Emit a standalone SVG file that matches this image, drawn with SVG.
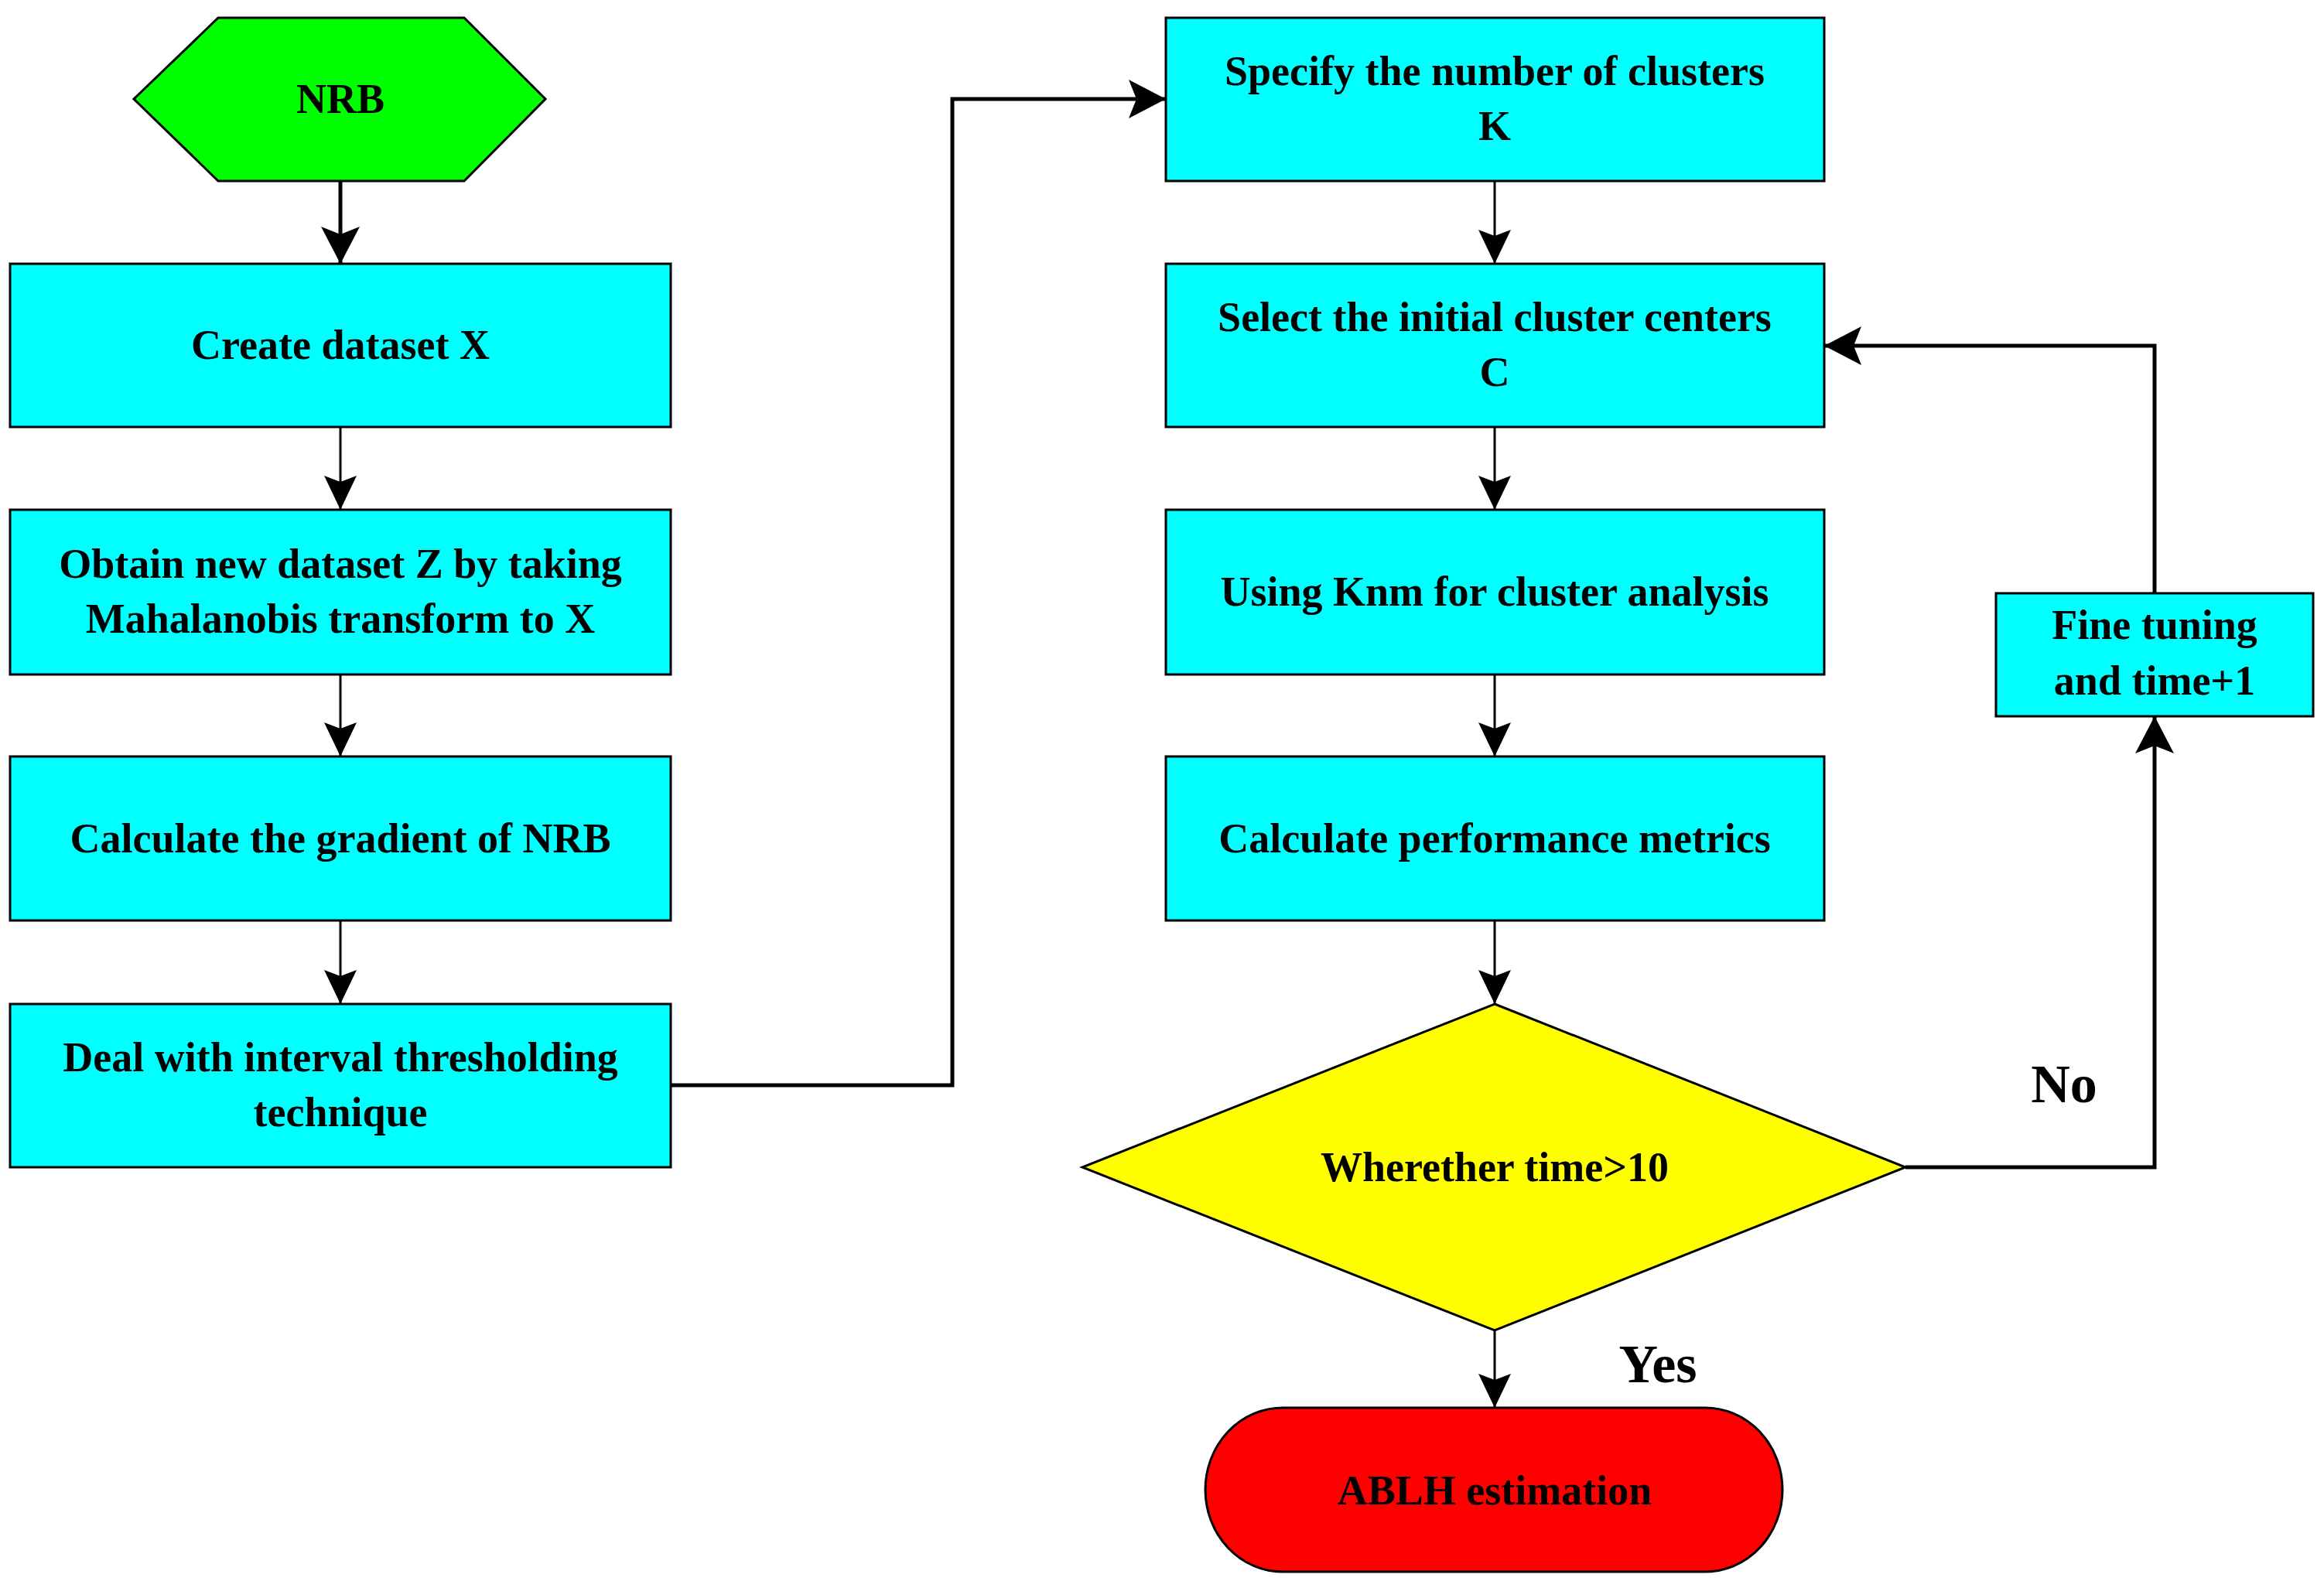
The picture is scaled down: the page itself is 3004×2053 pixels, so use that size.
<svg xmlns="http://www.w3.org/2000/svg" width="3004" height="2053" viewBox="0 0 3004 2053">
<style>
.box{fill:#00ffff;stroke:#000;stroke-width:3}
.t{font-family:"Liberation Serif",serif;font-weight:bold;font-size:54px;text-anchor:middle;fill:#000}
.lbl{font-family:"Liberation Serif",serif;font-weight:bold;font-size:70px;text-anchor:middle;fill:#000}
.c{fill:none;stroke:#000;stroke-width:3}
.ck{fill:none;stroke:#000;stroke-width:5}
</style>
<defs>
<marker id="a" markerUnits="userSpaceOnUse" markerWidth="50" markerHeight="50" refX="44" refY="21" orient="auto">
<path d="M0,0 L44,21 L0,42 L8,21 Z" fill="#000"/>
</marker>
<marker id="ak" markerUnits="userSpaceOnUse" markerWidth="56" markerHeight="56" refX="48" refY="25" orient="auto">
<path d="M0,0 L48,25 L0,50 L10,25 Z" fill="#000"/>
</marker>
</defs>
<g id="nrb"><polygon points="282,23 600,23 705,128 600,234 282,234 173,128" fill="#00ff00" stroke="#000" stroke-width="3"/><text class="t" x="440" y="146">NRB</text></g>
<g id="create"><rect class="box" x="13" y="341" width="854" height="211"/><text class="t" x="440" y="464">Create dataset X</text></g>
<g id="obtain"><rect class="box" x="13" y="659" width="854" height="213"/><text class="t" x="440" y="747">Obtain new dataset Z by taking</text><text class="t" x="440" y="818">Mahalanobis transform to  X</text></g>
<g id="gradient"><rect class="box" x="13" y="978" width="854" height="212"/><text class="t" x="440" y="1102">Calculate the gradient of NRB</text></g>
<g id="interval"><rect class="box" x="13" y="1298" width="854" height="211"/><text class="t" x="440" y="1385">Deal with interval thresholding</text><text class="t" x="440" y="1456">technique</text></g>
<g id="specify"><rect class="box" x="1507" y="23" width="851" height="211"/><text class="t" x="1932" y="110">Specify the number of clusters</text><text class="t" x="1932" y="181">K</text></g>
<g id="select"><rect class="box" x="1507" y="341" width="851" height="211"/><text class="t" x="1932" y="428">Select the initial cluster centers</text><text class="t" x="1932" y="499">C</text></g>
<g id="using"><rect class="box" x="1507" y="659" width="851" height="213"/><text class="t" x="1932" y="783">Using Knm  for cluster analysis</text></g>
<g id="metrics"><rect class="box" x="1507" y="978" width="851" height="212"/><text class="t" x="1932" y="1102">Calculate performance metrics</text></g>
<g id="decision"><polygon points="1932,1298 2463,1509 1932,1720 1399,1509" fill="#ffff00" stroke="#000" stroke-width="3"/><text class="t" x="1932" y="1527">Wherether  time&gt;10</text></g>
<g id="fine"><rect class="box" x="2580" y="767" width="410" height="159"/><text class="t" x="2785" y="826">Fine tuning</text><text class="t" x="2785" y="898">and time+1</text></g>
<g id="ablh"><path d="M1658,1820 L2204,1820 A100,106 0 0 1 2204,2032 L1658,2032 A100,106 0 0 1 1658,1820 Z" fill="#ff0000" stroke="#000" stroke-width="3"/><text class="t" x="1932" y="1945">ABLH estimation</text></g>
<g id="connectors">
<line class="ck" x1="440" y1="234" x2="440" y2="341" marker-end="url(#ak)"/>
<line class="c" x1="440" y1="552" x2="440" y2="659" marker-end="url(#a)"/>
<line class="c" x1="440" y1="872" x2="440" y2="978" marker-end="url(#a)"/>
<line class="c" x1="440" y1="1190" x2="440" y2="1298" marker-end="url(#a)"/>
<polyline class="ck" points="867,1403 1231,1403 1231,128 1507,128" marker-end="url(#ak)"/>
<line class="c" x1="1932" y1="234" x2="1932" y2="341" marker-end="url(#a)"/>
<line class="c" x1="1932" y1="552" x2="1932" y2="659" marker-end="url(#a)"/>
<line class="c" x1="1932" y1="872" x2="1932" y2="978" marker-end="url(#a)"/>
<line class="c" x1="1932" y1="1190" x2="1932" y2="1298" marker-end="url(#a)"/>
<line class="c" x1="1932" y1="1720" x2="1932" y2="1820" marker-end="url(#a)"/>
<polyline class="ck" points="2463,1509 2785,1509 2785,926" marker-end="url(#ak)"/>
<polyline class="ck" points="2785,767 2785,447 2358,447" marker-end="url(#ak)"/>
</g>
<text class="lbl" x="2668" y="1425">No</text>
<text class="lbl" x="2143" y="1787">Yes</text>
</svg>
